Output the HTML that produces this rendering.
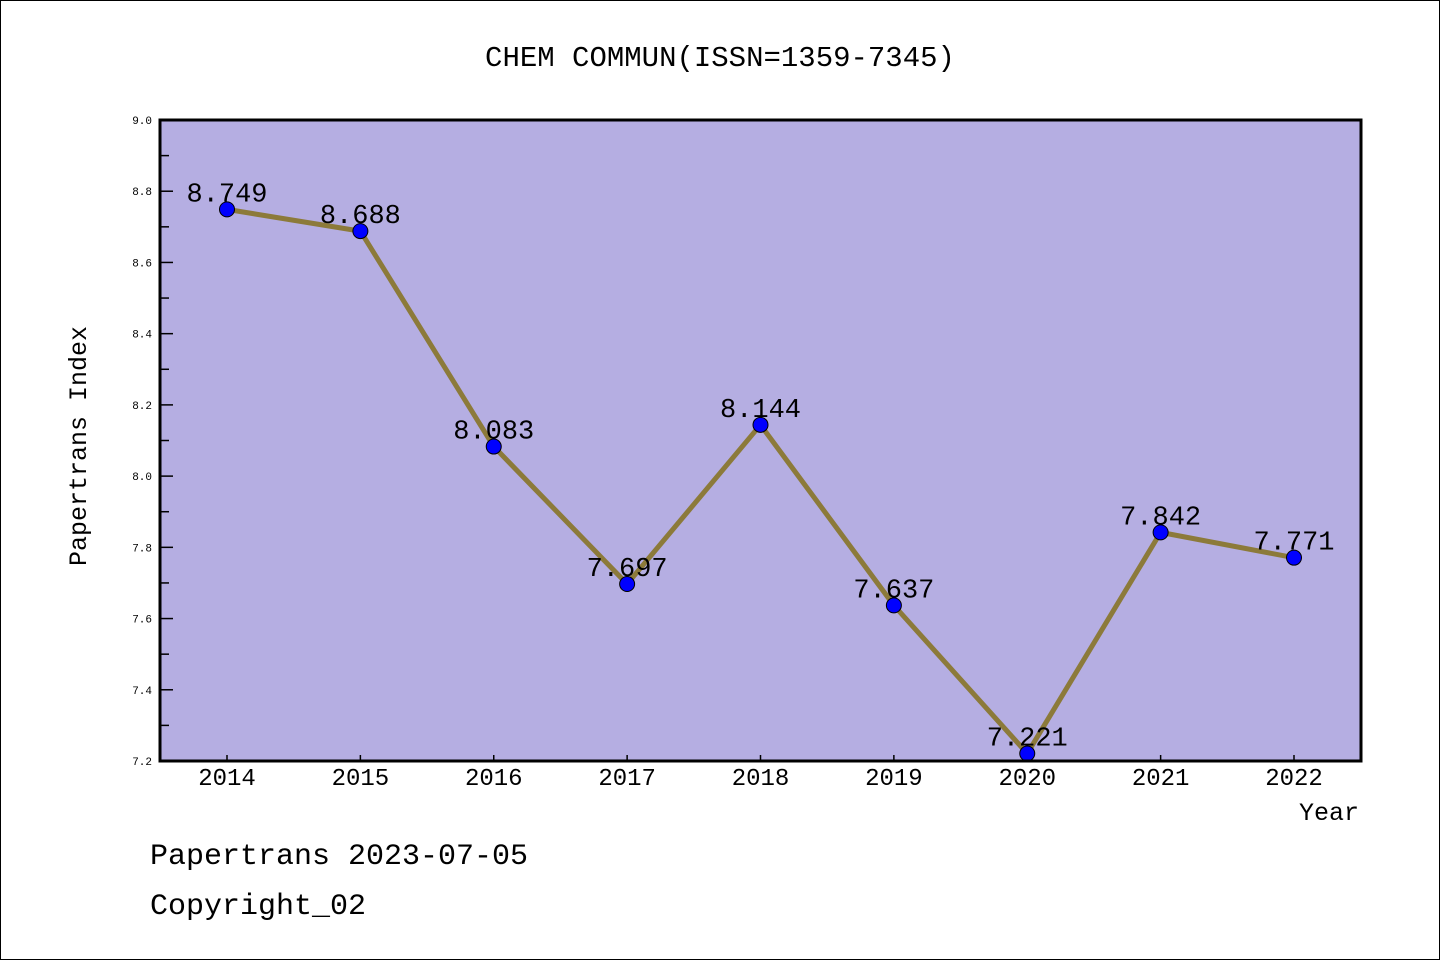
<!DOCTYPE html>
<html><head><meta charset="utf-8"><style>
body{margin:0;background:#fff}
svg{display:block;font-family:"Liberation Mono","Noto Sans CJK SC",monospace}
</style></head><body>
<svg id="c" width="1440" height="960" xmlns="http://www.w3.org/2000/svg">
<rect x="0.5" y="0.5" width="1439" height="959" fill="#fff" stroke="#000"/>
<text x="720" y="66" font-size="29" text-anchor="middle">CHEM COMMUN(ISSN=1359-7345)</text>
<rect x="160" y="120" width="1201" height="641" fill="#b5aee2"/>
<g id="ax"></g>
<g id="marks"></g>
<rect x="160" y="120" width="1201" height="641" fill="none" stroke="#000" stroke-width="3"/>
<text x="86" y="446" font-size="25" text-anchor="middle" transform="rotate(-90 86 446)">Papertrans Index</text>
<text x="1359" y="820" font-size="25" text-anchor="end">Year</text>
<text x="150" y="864" font-size="30">Papertrans 2023-07-05</text>
<text x="150" y="914" font-size="30">Copyright_02</text>
</svg>
<script>
const years=["2014","2015","2016","2017","2018","2019","2020","2021","2022"];
const values=[8.749,8.688,8.083,7.697,8.144,7.637,7.221,7.842,7.771];
const labels=["8.749","8.688","8.083","7.697","8.144","7.637","7.221","7.842","7.771"];
const yTicks=["7.2","7.4","7.6","7.8","8.0","8.2","8.4","8.6","8.8","9.0"];
const NS="http://www.w3.org/2000/svg";
const yMin=7.2,yMax=9.0,plotTop=120,plotBot=761;
function yScale(v){return plotBot-(v-yMin)/(yMax-yMin)*(plotBot-plotTop);}
function xScale(i){return 227+i*(1294-227)/(years.length-1);}
function mk(t,a,p){const e=document.createElementNS(NS,t);for(const k in a)e.setAttribute(k,a[k]);p.appendChild(e);return e;}
const ax=document.getElementById('ax'),mg=document.getElementById('marks');
yTicks.forEach(t=>{const v=parseFloat(t),yy=yScale(v);
 const l=mk('line',{x1:160,x2:173,y1:yy,y2:yy,stroke:'#000','stroke-width':1.5},ax);
 
 
 const tx=mk('text',{x:152,y:yy+4,'font-size':11,'text-anchor':'end'},ax);tx.textContent=t;
 
 
 if(v<yMax-0.01){const ym=yScale(v+0.1);
  const m=mk('line',{x1:160,x2:169,y1:ym,y2:ym,stroke:'#000','stroke-width':1.5},ax);
  
  }
});
years.forEach((yr,i)=>{const xx=xScale(i);
 const l=mk('line',{x1:xx,x2:xx,y1:plotBot-6,y2:plotBot,stroke:'#000','stroke-width':1.5},ax);
 
 
 const t=mk('text',{x:xx,y:785,'font-size':24,'text-anchor':'middle'},ax);t.textContent=yr;
 
 
});
const pts=values.map((v,i)=>xScale(i)+','+yScale(v)).join(' ');
const pl=mk('polyline',{points:pts,fill:'none',stroke:'#8c7a3a','stroke-width':5,'stroke-linejoin':'round'},mg);


values.forEach((v,i)=>{
 const c=mk('circle',{cx:xScale(i),cy:yScale(v),r:7.5,fill:'#0000ff',stroke:'#000','stroke-width':1},mg);
 
 
 const t=mk('text',{x:xScale(i),y:yScale(v)-8,'font-size':27,'text-anchor':'middle'},mg);t.textContent=labels[i];
 
 
});
</script>
</body></html>
